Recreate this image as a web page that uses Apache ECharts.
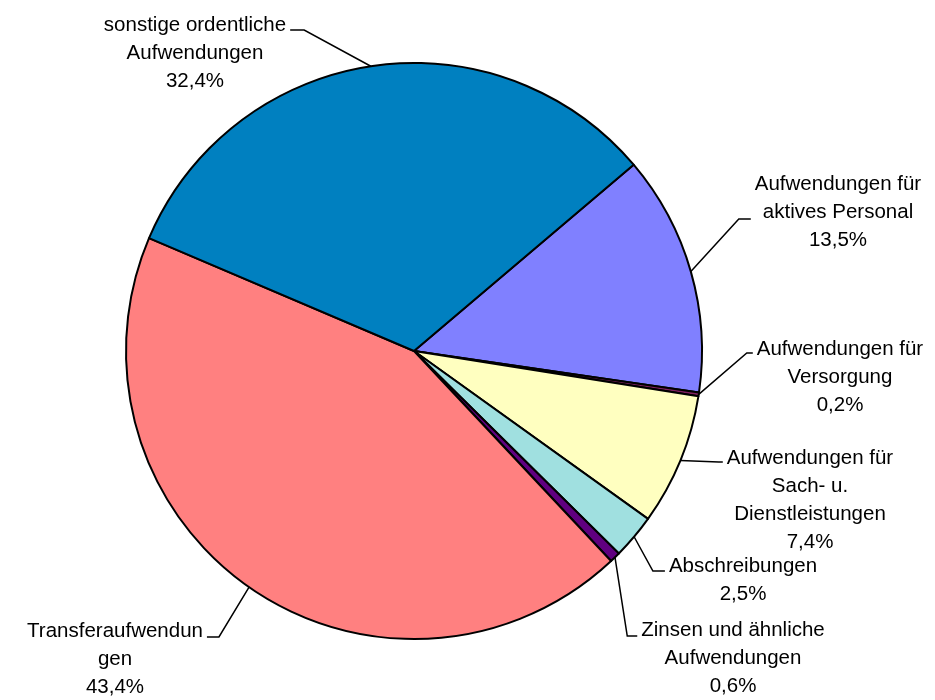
<!DOCTYPE html>
<html>
<head>
<meta charset="utf-8">
<script src="https://cdn.jsdelivr.net/npm/echarts@6/dist/echarts.min.js"></script>
<style>
  html, body { margin: 0; padding: 0; background: #fff; }
  #chart { width: 935px; height: 700px; }
</style>
</head>
<body>
<div id="chart"></div>
<script>
// Aufwandsarten, im Uhrzeigersinn
const categories = [
  'Aufwendungen für\naktives Personal',
  'Aufwendungen für\nVersorgung',
  'Aufwendungen für\nSach- u.\nDienstleistungen',
  'Abschreibungen',
  'Zinsen und ähnliche\nAufwendungen',
  'Transferaufwendun\ngen',
  'sonstige ordentliche\nAufwendungen'
];
// Anteile in Prozent
const shares = [13.5, 0.2, 7.4, 2.5, 0.6, 43.4, 32.4];
const colors = ['#8080FF', '#802060', '#FFFFC0', '#A0E0E0', '#600080', '#FF8080', '#0080C0'];

// Beschriftungspositionen: Mittelpunkt des Textblocks, Seite und Höhe des Anschlusses der Führungslinie
const labelPlaces = [
  { cx: 838, cy: 212, side: 'left',  ay: 219, elbow: 12 },
  { cx: 840, cy: 377, side: 'left',  ay: 353, elbow: 6 },
  { cx: 810, cy: 500, side: 'left',  ay: 462, elbow: 4 },
  { cx: 743, cy: 580, side: 'left',  ay: 571, elbow: 12 },
  { cx: 733, cy: 658, side: 'left',  ay: 636, elbow: 10 },
  { cx: 115, cy: 659, side: 'right', ay: 637, elbow: 12 },
  { cx: 195, cy: 53,  side: 'right', ay: 30,  elbow: 14 }
];

const chart = echarts.init(document.getElementById('chart'), null, { renderer: 'canvas' });

chart.setOption({
  animation: false,
  backgroundColor: '#ffffff',
  series: [{
    type: 'pie',
    center: [414, 351],
    radius: 288,
    startAngle: 40.3,
    clockwise: true,
    avoidLabelOverlap: false,
    data: categories.map((name, i) => ({
      name: name,
      value: shares[i],
      itemStyle: { color: colors[i] }
    })),
    itemStyle: { borderColor: '#000', borderWidth: 2 },
    label: {
      show: true,
      position: 'outside',
      color: '#000',
      fontFamily: 'Liberation Sans',
      fontSize: 20.5,
      lineHeight: 28,
      align: 'center',
      formatter: p => p.name + '\n' + p.value.toFixed(1).replace('.', ',') + '%'
    },
    labelLine: {
      show: true,
      length: 10,
      length2: 10,
      lineStyle: { color: '#000', width: 1.5 }
    },
    labelLayout: function (params) {
      const place = labelPlaces[params.dataIndex];
      const w = params.labelRect.width;
      const start = params.labelLinePoints ? params.labelLinePoints[0] : [place.cx, place.cy];
      const endX = place.side === 'left' ? place.cx - w / 2 - 4 : place.cx + w / 2 + 4;
      const elbowX = place.side === 'left' ? endX - place.elbow : endX + place.elbow;
      return {
        x: place.cx,
        y: place.cy,
        align: 'center',
        verticalAlign: 'middle',
        labelLinePoints: [start, [elbowX, place.ay], [endX, place.ay]]
      };
    },
    emphasis: { disabled: true }
  }]
});
</script>
</body>
</html>
